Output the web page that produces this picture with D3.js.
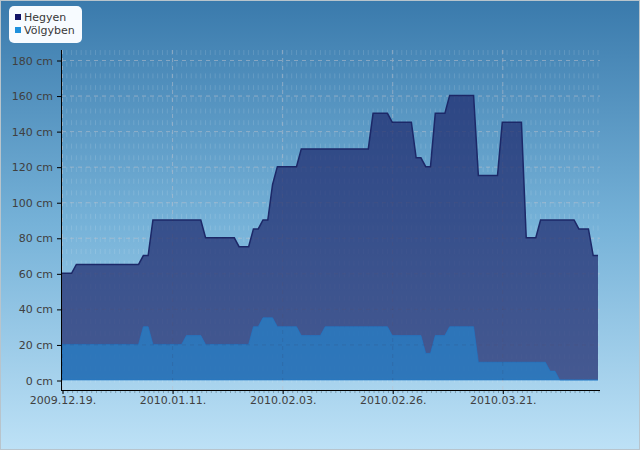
<!DOCTYPE html>
<html>
<head>
<meta charset="utf-8">
<script src="https://cdn.jsdelivr.net/npm/d3@7"></script>
<style>
html, body { margin: 0; padding: 0; }
svg { display: block; font-family: 'DejaVu Sans', sans-serif; }
</style>
</head>
<body>
<script>
'use strict';

var w = 640;
var h = 450;

// one reading per day, starting on this date
var startDay = '2009-12-19';

// snow depth, cm
var hegyen = [
	60, 60, 60, 65, 65, 65, 65, 65, 65, 65, 65, 65, 65, 65, 65, 65, 65, 70, 70, 90,
	90, 90, 90, 90, 90, 90, 90, 90, 90, 90, 80, 80, 80, 80, 80, 80, 80, 75, 75, 75,
	85, 85, 90, 90, 110, 120, 120, 120, 120, 120, 130, 130, 130, 130, 130, 130, 130, 130, 130, 130,
	130, 130, 130, 130, 130, 150, 150, 150, 150, 145, 145, 145, 145, 145, 125, 125, 120, 120, 150, 150,
	150, 160, 160, 160, 160, 160, 160, 115, 115, 115, 115, 115, 145, 145, 145, 145, 145, 80, 80, 80,
	90, 90, 90, 90, 90, 90, 90, 90, 85, 85, 85, 70, 70
];
var volgyben = [
	20, 20, 20, 20, 20, 20, 20, 20, 20, 20, 20, 20, 20, 20, 20, 20, 20, 30, 30, 20,
	20, 20, 20, 20, 20, 20, 25, 25, 25, 25, 20, 20, 20, 20, 20, 20, 20, 20, 20, 20,
	30, 30, 35, 35, 35, 30, 30, 30, 30, 30, 25, 25, 25, 25, 25, 30, 30, 30, 30, 30,
	30, 30, 30, 30, 30, 30, 30, 30, 30, 25, 25, 25, 25, 25, 25, 25, 15, 15, 25, 25,
	25, 30, 30, 30, 30, 30, 30, 10, 10, 10, 10, 10, 10, 10, 10, 10, 10, 10, 10, 10,
	10, 10, 5, 5, 0, 0, 0, 0, 0, 0, 0, 0, 0
];

var seriesNames = [ 'Hegyen', 'Völgyben' ];
var tickLabels = [ '2009.12.19.', '2010.01.11.', '2010.02.03.', '2010.02.26.', '2010.03.21.' ];
var yTicks = [ 0, 20, 40, 60, 80, 100, 120, 140, 160, 180 ];

var day0 = d3.timeParse('%Y-%m-%d')(startDay);
var dates = hegyen.map(function(v, i) { return d3.timeDay.offset(day0, i); });
var tickDates = tickLabels.map(d3.timeParse('%Y.%m.%d.'));

var plotLeft = 61, plotRight = 600, plotTop = 50, plotBottom = 390;

var x = d3.scaleTime()
	.domain([ dates[0], dates[dates.length - 1] ])
	.range([ 62, 598 ]);

var y = d3.scaleLinear()
	.domain([ 0, 180 ])
	.range([ 380, 60 ]);

var svg = d3.select('body').append('svg')
	.attr('width', w)
	.attr('height', h);

var defs = svg.append('defs');
var grad = defs.append('linearGradient')
	.attr('id', 'bg')
	.attr('x1', 0).attr('y1', 0)
	.attr('x2', 0).attr('y2', 1);
grad.append('stop').attr('offset', '0%').attr('stop-color', '#3a7aac');
grad.append('stop').attr('offset', '50%').attr('stop-color', '#76b2d8');
grad.append('stop').attr('offset', '100%').attr('stop-color', '#bde1f6');

svg.append('rect')
	.attr('x', 0.5).attr('y', 0.5)
	.attr('width', w - 1).attr('height', h - 1)
	.attr('fill', 'url(#bg)')
	.attr('stroke', '#b8c4cc');

// grid, drawn under the areas
var grid = svg.append('g');

grid.selectAll('.minor')
	.data(dates)
	.enter().append('line')
	.attr('x1', function(d) { return x(d); })
	.attr('x2', function(d) { return x(d); })
	.attr('y1', plotTop).attr('y2', plotBottom)
	.attr('stroke', '#fff')
	.attr('stroke-opacity', 0.13)
	.attr('stroke-dasharray', '5,6.7');

grid.selectAll('.hy')
	.data(yTicks.slice(1))
	.enter().append('line')
	.attr('x1', 62).attr('x2', plotRight)
	.attr('y1', function(d) { return y(d) + 0.5; })
	.attr('y2', function(d) { return y(d) + 0.5; })
	.attr('stroke', '#fff')
	.attr('stroke-opacity', 0.45)
	.attr('stroke-dasharray', '4,4');

grid.selectAll('.vx')
	.data(tickDates)
	.enter().append('line')
	.attr('x1', function(d) { return x(d) + 0.5; })
	.attr('x2', function(d) { return x(d) + 0.5; })
	.attr('y1', plotTop).attr('y2', plotBottom)
	.attr('stroke', '#fff')
	.attr('stroke-opacity', 0.45)
	.attr('stroke-dasharray', '4,4');

var area = function(vals) {
	return d3.area()
		.x(function(d, i) { return x(dates[i]); })
		.y0(y(0))
		.y1(function(d) { return y(d); })(vals);
};

svg.append('path')
	.attr('d', area(hegyen))
	.attr('fill', '#1e2a6e')
	.attr('fill-opacity', 0.72);

svg.append('path')
	.attr('d', d3.line()
		.x(function(d, i) { return x(dates[i]); })
		.y(function(d) { return y(d); })(hegyen))
	.attr('fill', 'none')
	.attr('stroke', '#1c2868')
	.attr('stroke-width', 1.5);

svg.append('path')
	.attr('d', area(volgyben))
	.attr('fill', '#1e90dc')
	.attr('fill-opacity', 0.55)
	.attr('stroke', '#1f78c8')
	.attr('stroke-opacity', 0.6)
	.attr('stroke-width', 1);

// faint grid over the areas
var over = svg.append('g');
over.selectAll('.hy')
	.data(yTicks.slice(1))
	.enter().append('line')
	.attr('x1', 62).attr('x2', plotRight)
	.attr('y1', function(d) { return y(d) + 0.5; })
	.attr('y2', function(d) { return y(d) + 0.5; })
	.attr('stroke', '#16204a')
	.attr('stroke-opacity', 0.15)
	.attr('stroke-dasharray', '4,4');
over.selectAll('.vx')
	.data(tickDates)
	.enter().append('line')
	.attr('x1', function(d) { return x(d) + 0.5; })
	.attr('x2', function(d) { return x(d) + 0.5; })
	.attr('y1', plotTop).attr('y2', plotBottom)
	.attr('stroke', '#16204a')
	.attr('stroke-opacity', 0.15)
	.attr('stroke-dasharray', '4,4');

// axes
var yAxis = svg.append('g')
	.attr('transform', 'translate(' + plotLeft + ',0.5)')
	.call(d3.axisLeft(y)
		.tickValues(yTicks)
		.tickFormat(function(d) { return d + ' cm'; })
		.tickSize(4)
		.tickPadding(4));
yAxis.select('.domain').remove();

var xMinor = svg.append('g')
	.attr('transform', 'translate(0.5,' + plotBottom + ')')
	.call(d3.axisBottom(x)
		.ticks(d3.timeDay.every(1))
		.tickSize(3)
		.tickFormat(''));
xMinor.select('.domain').remove();
xMinor.selectAll('line').attr('stroke', '#6f8796').attr('stroke-opacity', 0.7);

var xAxis = svg.append('g')
	.attr('transform', 'translate(0.5,' + plotBottom + ')')
	.call(d3.axisBottom(x)
		.tickValues(tickDates)
		.tickFormat(function(d, i) { return tickLabels[i]; })
		.tickSize(4)
		.tickPadding(2));
xAxis.select('.domain').remove();

svg.selectAll('.tick text')
	.attr('fill', '#404040')
	.attr('font-size', 11)
	.attr('font-family', 'DejaVu Sans, sans-serif');

svg.append('line')
	.attr('x1', plotLeft + 0.5).attr('x2', plotLeft + 0.5)
	.attr('y1', plotTop).attr('y2', plotBottom + 0.5)
	.attr('stroke', '#000');
svg.append('line')
	.attr('x1', plotLeft).attr('x2', plotRight)
	.attr('y1', plotBottom + 0.5).attr('y2', plotBottom + 0.5)
	.attr('stroke', '#000');

// legend
var legend = svg.append('g');
legend.append('rect')
	.attr('x', 9).attr('y', 6)
	.attr('width', 73).attr('height', 37)
	.attr('rx', 5)
	.attr('fill', '#f7fbff');

var legendColors = [ '#121466', '#1e90dc' ];
var item = legend.selectAll('.item')
	.data(seriesNames)
	.enter().append('g')
	.attr('transform', function(d, i) { return 'translate(15,' + (14 + i * 13) + ')'; });
item.append('rect')
	.attr('width', 6).attr('height', 6)
	.attr('fill', function(d, i) { return legendColors[i]; });
item.append('text')
	.attr('x', 9).attr('y', 6.5)
	.attr('font-size', 11)
	.attr('fill', '#383838')
	.text(function(d) { return d; });
</script>
</body>
</html>
